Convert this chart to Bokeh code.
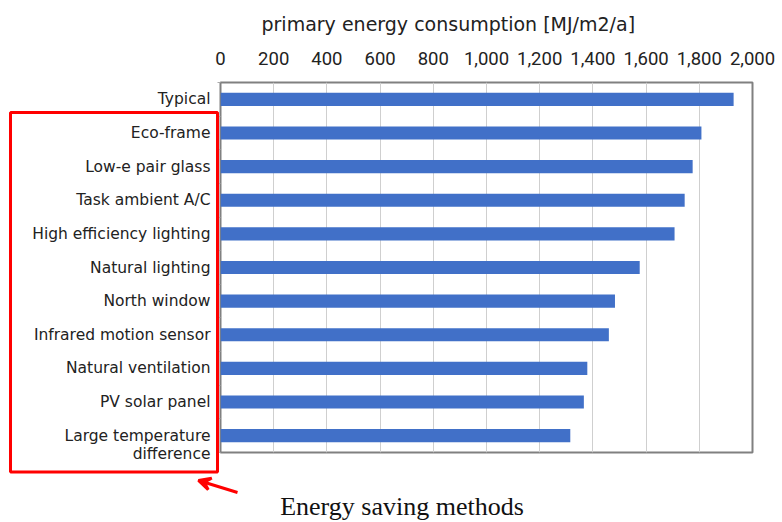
from bokeh.plotting import figure
from bokeh.models import (Range1d, FixedTicker, Arrow, VeeHead, Label, BoxAnnotation,
                          ColumnDataSource, NumeralTickFormatter)
from bokeh.embed import file_html
from bokeh.resources import INLINE

categories = ["Typical", "Eco-frame", "Low-e pair glass", "Task ambient A/C",
              "High efficiency lighting", "Natural lighting", "North window",
              "Infrared motion sensor", "Natural ventilation", "PV solar panel",
              "Large temperature\ndifference"]
values = [1929, 1808, 1775, 1745, 1707, 1576, 1483, 1460, 1379, 1366, 1315]
x_ticks = [0, 200, 400, 600, 800, 1000, 1200, 1400, 1600, 1800, 2000]
x_title = "primary energy consumption  [MJ/m2/a]"
group_title = "Energy saving methods"

n = len(categories)
idx = list(range(n))

W, H = 780, 522
FL, FR, FT, FB = 220, 752, 82, 452   # plot-area edges in pixels

p = figure(width=W, height=H, output_backend="svg", toolbar_location=None,
           x_axis_location="above", x_range=Range1d(0, 2000),
           y_range=Range1d(n - 0.5, -0.5),
           min_border_left=FL, min_border_right=W - FR,
           min_border_top=FT, min_border_bottom=H - FB)

src = ColumnDataSource(dict(y=idx, v=values))
p.hbar(y="y", right="v", left=0, height=0.39, source=src,
       fill_color="#4170c8", line_color=None)

xa = p.xaxis[0]
xa.ticker = FixedTicker(ticks=x_ticks, minor_ticks=[])
xa.formatter = NumeralTickFormatter(format="0,0")
xa.major_label_text_font = "Roboto"
xa.major_label_text_font_size = "18.5px"
xa.major_label_text_color = "#222222"
xa.major_label_standoff = 18
xa.major_tick_line_color = None
xa.major_tick_out = 0
xa.minor_tick_line_color = None
xa.axis_line_color = None

ya = p.yaxis[0]
tick_pos = [i + (0.27 if "\n" in c else 0) for i, c in zip(idx, categories)]
ya.ticker = FixedTicker(ticks=tick_pos, minor_ticks=[i - 0.5 for i in range(n + 1)])
ya.major_label_overrides = {t: c for t, c in zip(tick_pos, categories)}
ya.major_label_text_font = "DejaVu Sans"
ya.major_label_text_font_size = "15.5px"
ya.major_label_text_line_height = 1.0
ya.major_label_text_color = "#222222"
ya.major_label_standoff = 7
ya.major_tick_line_color = None
ya.major_tick_out = 0
ya.major_tick_in = 0
ya.minor_tick_line_color = "#aaaaaa"
ya.minor_tick_out = 3
ya.minor_tick_in = 0
ya.axis_line_color = None

p.xgrid.grid_line_color = "#cfcfcf"
p.xgrid.grid_line_width = 1
p.ygrid.grid_line_color = None
p.outline_line_color = "#808080"
p.outline_line_width = 2
p.background_fill_color = "white"
p.border_fill_color = "white"

# transparent overlay (pixel coordinates) for the annotations outside the plot area
ov = figure(width=W, height=H, output_backend="svg", toolbar_location=None,
            x_range=Range1d(0, W), y_range=Range1d(H, 0),
            x_axis_type=None, y_axis_type=None,
            min_border=0, min_border_left=0, min_border_right=0,
            min_border_top=0, min_border_bottom=0,
            styles={"position": "absolute", "top": "0px", "left": "0px"})
ov.background_fill_alpha = 0
ov.border_fill_alpha = 0
ov.outline_line_color = None
ov.grid.visible = False

ov.add_layout(Label(x=261, y=23, text=x_title, text_align="left",
                    text_baseline="alphabetic", text_font="DejaVu Sans",
                    text_font_size="19px", text_color="#222222"))
ov.add_layout(BoxAnnotation(left=10, right=217, top=112, bottom=471.5,
                            fill_alpha=0, line_color="#ff0000", line_alpha=1,
                            line_width=3))
ov.add_layout(Arrow(x_start=237, y_start=492, x_end=198, y_end=480,
                    line_color="#ff0000", line_width=3,
                    end=VeeHead(size=12, line_color="#ff0000", line_width=3,
                                fill_color="#ff0000")))
ov.add_layout(Label(x=401.5, y=506, text=group_title, text_align="center",
                    text_baseline="alphabetic", text_font="Liberation Serif",
                    text_font_size="26px", text_color="#111111"))

open("out.html", "w").write(file_html([p, ov], INLINE))
